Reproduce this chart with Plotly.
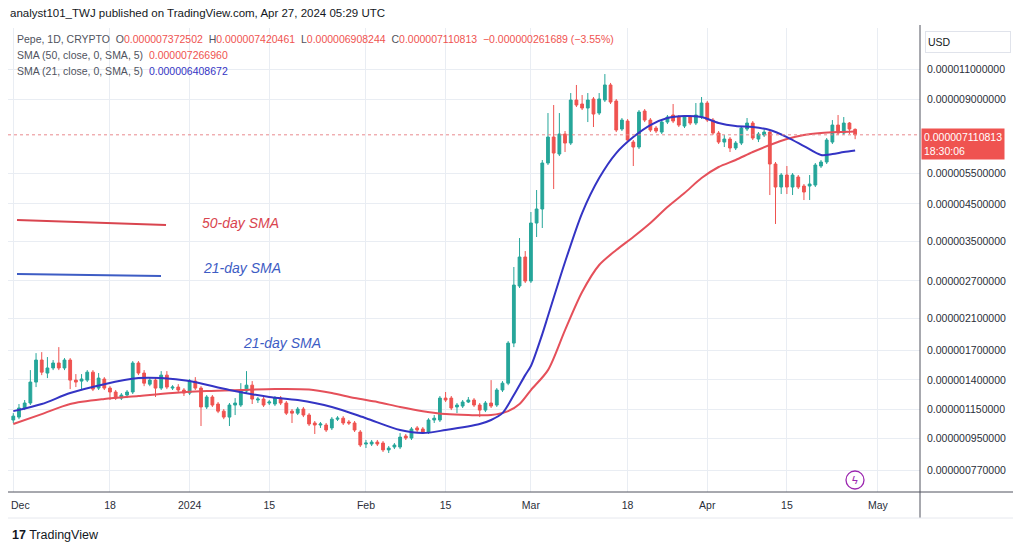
import numpy as np
import pandas as pd
import plotly.graph_objects as go

# Pepe / USD daily candles, prices in micro-USD (1e-6 USD), 2023-12-01 .. 2024-04-27
open_u = [
    1.073, 1.094, 1.162, 1.201, 1.380, 1.597, 1.465, 1.515, 1.566, 1.515,
    1.597, 1.398, 1.389, 1.398, 1.474, 1.326, 1.408, 1.326, 1.292, 1.241,
    1.266, 1.292, 1.566, 1.465, 1.361, 1.398, 1.326, 1.445, 1.326, 1.335,
    1.309, 1.283, 1.389, 1.326, 1.170, 1.250, 1.193, 1.138, 1.094, 1.185,
    1.185, 1.300, 1.352, 1.225, 1.233, 1.201, 1.193, 1.241, 1.201, 1.138,
    1.123, 1.154, 1.109, 1.052, 1.038, 1.038, 1.018, 1.079, 1.086, 1.059,
    1.052, 0.991, 0.915, 0.915, 0.927, 0.921, 0.880, 0.897, 0.897, 0.965,
    0.952, 1.018, 1.011, 0.991, 1.073, 1.073, 1.241, 1.241, 1.170, 1.177,
    1.209, 1.225, 1.185, 1.146, 1.201, 1.185, 1.309, 1.370, 1.787, 2.609,
    3.162, 2.697, 3.962, 4.348, 5.898, 7.007, 6.261, 7.148, 6.734, 8.956,
    8.722, 8.494, 9.016, 8.216, 8.956, 9.897, 8.897, 7.389, 7.791, 6.778,
    6.558, 8.326, 7.843, 7.438, 7.243, 7.739, 8.108, 8.001, 7.537, 8.001,
    7.688, 8.001, 8.780, 7.843, 7.195, 6.778, 6.915, 6.515, 6.734, 7.389,
    7.688, 6.915, 7.101, 7.243, 5.860, 5.030, 5.447, 5.030, 5.375, 5.064,
    5.064, 5.097, 5.782, 5.938, 6.778, 7.587, 7.195, 7.688, 7.372502,
]
high_u = [
    1.123, 1.193, 1.225, 1.494, 1.672, 1.683, 1.629, 1.597, 1.740, 1.618,
    1.618, 1.455, 1.455, 1.494, 1.494, 1.465, 1.426, 1.343, 1.309, 1.283,
    1.309, 1.586, 1.586, 1.494, 1.426, 1.426, 1.484, 1.484, 1.352, 1.361,
    1.326, 1.408, 1.426, 1.343, 1.266, 1.266, 1.209, 1.154, 1.201, 1.241,
    1.370, 1.484, 1.389, 1.250, 1.250, 1.225, 1.258, 1.258, 1.217, 1.154,
    1.170, 1.170, 1.123, 1.066, 1.059, 1.052, 1.094, 1.101, 1.101, 1.073,
    1.066, 1.004, 0.940, 0.940, 0.940, 0.933, 0.903, 0.921, 0.984, 0.978,
    1.024, 1.031, 1.024, 1.086, 1.109, 1.258, 1.292, 1.258, 1.201, 1.225,
    1.250, 1.241, 1.201, 1.217, 1.398, 1.326, 1.389, 1.811, 2.960, 3.587,
    3.290, 4.262, 4.931, 6.017, 8.216, 8.664, 8.216, 7.292, 9.381, 9.897,
    9.258, 9.381, 9.137, 9.381, 10.64, 10.03, 9.016, 7.949, 7.896, 6.869,
    8.381, 8.437, 7.949, 7.537, 7.843, 8.108, 8.722, 8.108, 8.108, 8.108,
    8.780, 9.137, 8.897, 7.949, 7.292, 7.101, 7.007, 6.824, 7.537, 7.949,
    7.791, 7.243, 7.438, 7.340, 5.938, 5.519, 5.782, 5.519, 5.447, 5.131,
    5.447, 5.898, 6.017, 6.961, 7.843, 8.108, 8.001, 7.739, 7.420461,
]
low_u = [
    1.052, 1.079, 1.146, 1.185, 1.335, 1.445, 1.417, 1.494, 1.494, 1.494,
    1.317, 1.335, 1.309, 1.380, 1.300, 1.309, 1.309, 1.225, 1.225, 1.225,
    1.241, 1.275, 1.445, 1.343, 1.343, 1.250, 1.309, 1.317, 1.309, 1.283,
    1.258, 1.266, 1.309, 1.031, 1.154, 1.170, 1.123, 1.079, 1.031, 1.109,
    1.170, 1.283, 1.193, 1.201, 1.170, 1.185, 1.177, 1.185, 1.109, 1.052,
    1.109, 1.094, 1.031, 0.978, 1.018, 0.991, 1.004, 1.066, 1.038, 1.038,
    0.991, 0.897, 0.891, 0.903, 0.903, 0.868, 0.862, 0.885, 0.885, 0.940,
    0.940, 0.991, 0.978, 0.978, 1.052, 1.059, 1.209, 1.146, 1.123, 1.162,
    1.201, 1.170, 1.094, 1.131, 1.162, 1.170, 1.292, 1.352, 1.740, 2.575,
    2.662, 2.662, 3.611, 3.833, 5.821, 4.964, 6.178, 6.344, 6.645, 8.550,
    8.381, 7.739, 7.488, 8.108, 8.838, 8.722, 7.243, 7.292, 6.778, 5.782,
    6.471, 7.739, 7.243, 7.195, 7.148, 7.638, 7.688, 7.488, 7.438, 7.587,
    7.587, 7.896, 7.739, 7.101, 6.690, 6.558, 6.344, 6.429, 6.645, 7.292,
    6.869, 6.778, 7.007, 4.770, 3.937, 4.802, 4.802, 4.770, 4.964, 4.615,
    4.615, 5.030, 5.707, 5.860, 6.690, 7.101, 7.101, 7.148, 6.908244,
]
close_u = [
    1.101, 1.162, 1.201, 1.380, 1.597, 1.474, 1.515, 1.566, 1.515, 1.597,
    1.398, 1.380, 1.408, 1.474, 1.317, 1.417, 1.326, 1.292, 1.241, 1.266,
    1.292, 1.566, 1.465, 1.370, 1.398, 1.326, 1.445, 1.335, 1.335, 1.309,
    1.283, 1.389, 1.326, 1.170, 1.250, 1.185, 1.138, 1.094, 1.185, 1.201,
    1.300, 1.352, 1.233, 1.233, 1.185, 1.209, 1.241, 1.201, 1.123, 1.123,
    1.154, 1.109, 1.045, 1.038, 1.045, 1.004, 1.079, 1.086, 1.052, 1.052,
    1.004, 0.909, 0.921, 0.927, 0.915, 0.880, 0.891, 0.909, 0.958, 0.952,
    1.011, 1.004, 0.991, 1.073, 1.086, 1.241, 1.225, 1.162, 1.185, 1.209,
    1.225, 1.185, 1.146, 1.201, 1.177, 1.309, 1.370, 1.787, 2.626, 3.162,
    2.697, 3.962, 4.348, 5.898, 7.007, 6.302, 7.148, 6.734, 8.956, 8.664,
    8.494, 8.956, 8.162, 9.016, 9.897, 8.838, 7.340, 7.843, 6.869, 6.558,
    8.270, 7.843, 7.340, 7.292, 7.739, 8.001, 7.791, 7.587, 8.001, 7.688,
    8.108, 8.780, 7.843, 7.195, 6.778, 6.915, 6.515, 6.734, 7.438, 7.688,
    6.961, 7.148, 7.243, 5.860, 5.030, 5.447, 5.030, 5.447, 5.030, 4.866,
    5.131, 5.821, 5.938, 6.869, 7.587, 7.195, 7.688, 7.389, 7.110813,
]
assert len(open_u) == len(high_u) == len(low_u) == len(close_u) == 149
dates = pd.date_range("2023-12-01", periods=len(close_u), freq="D")

# moving averages (micro-USD)
sma21_dates = ["2023-12-01", "2023-12-06", "2023-12-11", "2023-12-17", "2023-12-23", "2023-12-27",
               "2024-01-01", "2024-01-08", "2024-01-15", "2024-01-20", "2024-01-26", "2024-02-01",
               "2024-02-07", "2024-02-11", "2024-02-15", "2024-02-21", "2024-02-23", "2024-02-25",
               "2024-02-27", "2024-02-29", "2024-03-01", "2024-03-03", "2024-03-04", "2024-03-07",
               "2024-03-10", "2024-03-13", "2024-03-16", "2024-03-19", "2024-03-22", "2024-03-25",
               "2024-03-28", "2024-03-31", "2024-04-03", "2024-04-06", "2024-04-09", "2024-04-12",
               "2024-04-15", "2024-04-18", "2024-04-21", "2024-04-23", "2024-04-25", "2024-04-27"]
sma21_u = [1.138, 1.193, 1.283, 1.361, 1.417, 1.417, 1.389, 1.309, 1.250, 1.225, 1.170, 1.086,
           1.004, 0.984, 1.004, 1.045, 1.073, 1.123, 1.266, 1.445, 1.535, 1.897, 2.138, 3.059,
           4.234, 5.339, 6.302, 7.007, 7.587, 7.949, 8.054, 8.001, 7.688, 7.537, 7.488, 7.340,
           7.007, 6.601, 6.219, 6.261, 6.344, 6.408672]

sma50_dates = ["2023-12-01", "2023-12-06", "2023-12-11", "2023-12-17", "2023-12-23", "2023-12-29",
               "2024-01-04", "2024-01-10", "2024-01-16", "2024-01-22", "2024-01-26", "2024-01-30",
               "2024-02-03", "2024-02-07", "2024-02-11", "2024-02-15", "2024-02-19", "2024-02-23",
               "2024-02-26", "2024-02-28", "2024-03-01", "2024-03-04", "2024-03-07", "2024-03-10",
               "2024-03-13", "2024-03-16", "2024-03-19", "2024-03-22", "2024-03-25", "2024-03-28",
               "2024-03-31", "2024-04-03", "2024-04-06", "2024-04-09", "2024-04-12", "2024-04-15",
               "2024-04-18", "2024-04-21", "2024-04-24", "2024-04-27"]
sma50_u = [1.045, 1.116, 1.193, 1.233, 1.258, 1.283, 1.300, 1.309, 1.317, 1.313, 1.283, 1.241,
           1.209, 1.170, 1.138, 1.116, 1.109, 1.109, 1.138, 1.193, 1.309, 1.494, 1.948, 2.507,
           2.999, 3.312, 3.611, 3.962, 4.406, 4.834, 5.339, 5.744, 6.017, 6.344, 6.645, 6.915,
           7.101, 7.195, 7.243, 7.266960]

# axis ticks (the Dec label sits at the very edge, so it is placed as a separate text)
price_ticks_u = [0.77, 0.95, 1.15, 1.4, 1.7, 2.1, 2.7, 3.5, 4.5, 5.5, 9.0, 11.0]
date_ticks = ["2023-12-01", "2023-12-18", "2024-01-01", "2024-01-15", "2024-02-01", "2024-02-15",
              "2024-03-01", "2024-03-18", "2024-04-01", "2024-04-15", "2024-05-01"]
date_tick_text = ["", "18", "2024", "15", "Feb", "15", "Mar", "18", "Apr", "15", "May"]

UP = "#26a69a"
DOWN = "#ef5350"
BLUE = "#3434c4"
RED_SMA = "#e5505a"
GRID = "#e9edf3"
TXT = "#2a2e39"
FONT = "Liberation Sans, Arial, sans-serif"

# the page adds an 8px body margin; the plot box sits at page pixels x 8..920, y 28..492
def px(x):
    return (x - 8) / 912

def py(y):
    return (492 - y) / 464

def usd(v_u):
    return f"{v_u * 1e-6:.12f}"

fig = go.Figure()
fig.add_trace(go.Candlestick(
    x=dates, open=open_u, high=high_u, low=low_u, close=close_u,
    increasing=dict(line=dict(color=UP, width=1), fillcolor=UP),
    decreasing=dict(line=dict(color=DOWN, width=1), fillcolor=DOWN),
    whiskerwidth=0, showlegend=False, hoverinfo="skip",
))
fig.add_trace(go.Scatter(x=pd.to_datetime(sma50_dates), y=sma50_u, mode="lines",
                         line=dict(color=RED_SMA, width=2, shape="spline", smoothing=0.8),
                         showlegend=False, hoverinfo="skip"))
fig.add_trace(go.Scatter(x=pd.to_datetime(sma21_dates), y=sma21_u, mode="lines",
                         line=dict(color=BLUE, width=2, shape="spline", smoothing=0.8),
                         showlegend=False, hoverinfo="skip"))

last_close = close_u[-1]
change = close_u[-1] - open_u[-1]
pct = change / open_u[-1] * 100
nb = "\u00a0"

def val(txt, color):
    return f'<span style="color:{color}">{txt}</span>'

legend1 = (f"Pepe, 1D, CRYPTO{nb}{nb}O{val(usd(open_u[-1]), DOWN)}{nb}{nb}H{val(usd(high_u[-1]), DOWN)}"
           f"{nb}{nb}L{val(usd(low_u[-1]), DOWN)}{nb}{nb}C{val(usd(last_close), DOWN)}{nb}{nb}"
           + val(f"\u2212{usd(-change)} (\u2212{abs(pct):.2f}%)", DOWN))
legend2 = f"SMA (50, close, 0, SMA, 5){nb}{nb}" + val(usd(sma50_u[-1]), DOWN)
legend3 = f"SMA (21, close, 0, SMA, 5){nb}{nb}" + val(usd(sma21_u[-1]), BLUE)

annotations = [
    dict(x=px(8), y=py(13), text="analyst101_TWJ published on TradingView.com, Apr 27, 2024 05:29 UTC",
         font=dict(size=11.5, color="#131722")),
    dict(x=px(15), y=py(39), text=legend1, font=dict(size=10.5, color="#50535e")),
    dict(x=px(15), y=py(55), text=legend2, font=dict(size=10.5, color="#50535e")),
    dict(x=px(15), y=py(71), text=legend3, font=dict(size=10.5, color="#50535e")),
    dict(x=px(200), y=py(223), text="<i>50-day SMA</i>", font=dict(size=14, color="#d9454f")),
    dict(x=px(201), y=py(268), text="<i>21-day SMA</i>", font=dict(size=14, color="#3d5cc4")),
    dict(x=px(241), y=py(343), text="<i>21-day SMA</i>", font=dict(size=14, color="#3d5cc4")),
    dict(x=px(925), y=py(31), yanchor="top", text="USD", width=80, height=16, align="left",
         bordercolor="#e0e3eb", borderwidth=1, borderpad=2, font=dict(size=10.5, color="#131722")),
    dict(x=px(921), y=np.log10(last_close), yref="y", yanchor="top", yshift=7,
         text=f"{usd(last_close)}<br>18:30:06", align="left", bgcolor=DOWN, borderpad=2,
         font=dict(size=10.5, color="white")),
    dict(x=px(9), y=py(505), text="Dec", font=dict(size=10.5, color=TXT)),
    dict(x=px(855), y=py(480), xanchor="center", text="\u03df", font=dict(size=11, color="#9c27b0")),
    dict(x=px(10), y=py(535), text="<b>17</b> TradingView", font=dict(size=12.5, color="#131722")),
]
for a in annotations:
    a.setdefault("xref", "paper")
    a.setdefault("yref", "paper")
    a.setdefault("xanchor", "left")
    a.setdefault("yanchor", "middle")
    a.setdefault("showarrow", False)
    a["font"]["family"] = FONT

shapes = [
    # last price line
    dict(type="line", xref="paper", yref="y", x0=0, x1=1, y0=last_close, y1=last_close,
         line=dict(color="#e98a8e", width=1, dash="dot")),
    # hand drawn legend strokes
    dict(type="line", xref="paper", yref="paper", x0=px(17), y0=py(220), x1=px(166), y1=py(225),
         line=dict(color="#d9454f", width=2)),
    dict(type="line", xref="paper", yref="paper", x0=px(17), y0=py(274), x1=px(161), y1=py(276),
         line=dict(color="#3d5cc4", width=2)),
    # price scale separator and time scale line
    dict(type="line", xref="paper", yref="paper", x0=1, x1=1, y0=py(518), y1=py(25),
         line=dict(color="#50535e", width=1)),
    dict(type="line", xref="paper", yref="paper", x0=0, x1=px(1013), y0=0, y1=0,
         line=dict(color="#50535e", width=1)),
    dict(type="line", xref="paper", yref="paper", x0=px(8), x1=px(1013), y0=py(518), y1=py(518),
         line=dict(color="#e6e8ee", width=1)),
    dict(type="circle", xref="paper", yref="paper", x0=px(846), x1=px(864), y0=py(489), y1=py(471),
         line=dict(color="#9c27b0", width=1.3)),
]

fig.update_layout(
    width=1008, height=535,
    margin=dict(l=0, r=96, t=20, b=51, autoexpand=False),
    paper_bgcolor="white", plot_bgcolor="white",
    showlegend=False,
    font=dict(family=FONT, size=10.5, color=TXT),
    annotations=annotations,
    shapes=shapes,
    xaxis=dict(type="date", range=["2023-11-30 01:40", "2024-05-08 09:40"],
               tickvals=date_ticks, ticktext=date_tick_text, ticks="",
               showgrid=True, gridcolor=GRID, gridwidth=1, zeroline=False,
               rangeslider=dict(visible=False), showline=False, automargin=False,
               tickfont=dict(size=10.5, color=TXT), ticklabelstandoff=5),
    yaxis=dict(type="log", side="right", range=[np.log10(0.6657), np.log10(14.44)],
               tickvals=price_ticks_u, ticktext=[usd(v) for v in price_ticks_u], ticks="",
               showgrid=True, gridcolor=GRID, gridwidth=1, zeroline=False, showline=False,
               automargin=False, tickfont=dict(size=10.5, color=TXT), ticklabelstandoff=6),
)

fig.write_html("out.html")
